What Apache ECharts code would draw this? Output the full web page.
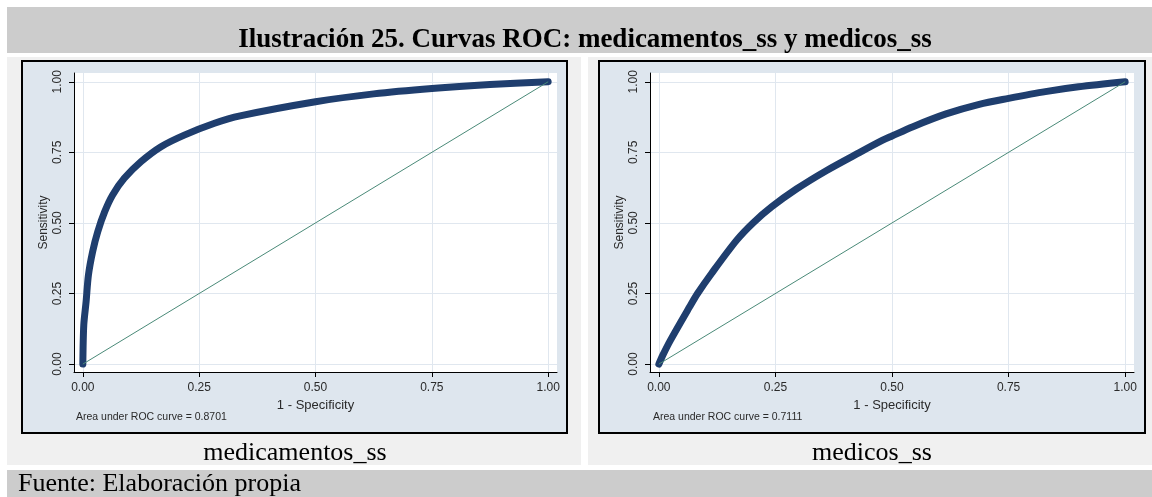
<!DOCTYPE html>
<html>
<head>
<meta charset="utf-8">
<script src="https://cdn.jsdelivr.net/npm/echarts@6/dist/echarts.min.js"></script>
<style>
  html, body { margin: 0; padding: 0; background: #ffffff; }
  #chart { width: 1152px; height: 497px; }
</style>
</head>
<body>
<div id="chart"></div>
<script>
// Figure texts
const figureTitle = 'Ilustración 25. Curvas ROC: medicamentos_ss y medicos_ss';
const sourceNote = 'Fuente: Elaboración propia';
const panelCaptions = ['medicamentos_ss', 'medicos_ss'];
const aucValues = ['0.8701', '0.7111'];

// Axis ticks shared by both panels
const tickValues = [0, 0.25, 0.5, 0.75, 1];

// ROC curve: medicamentos_ss (1 - specificity, sensitivity)
const medicamentosFpr = [0, 0.002, 0.007, 0.012, 0.021, 0.032, 0.047, 0.064, 0.089, 0.125, 0.168, 0.218, 0.283, 0.338, 0.5, 0.625, 0.75, 0.875, 1];
const medicamentosTpr = [0, 0.138, 0.221, 0.315, 0.398, 0.469, 0.540, 0.599, 0.658, 0.717, 0.770, 0.811, 0.853, 0.879, 0.929, 0.957, 0.976, 0.990, 1];

// ROC curve: medicos_ss
const medicosFpr = [0, 0.008, 0.025, 0.066, 0.083, 0.113, 0.167, 0.202, 0.242, 0.295, 0.359, 0.431, 0.48, 0.5, 0.545, 0.616, 0.687, 0.75, 0.829, 0.9, 1];
const medicosTpr = [0, 0.030, 0.085, 0.203, 0.250, 0.321, 0.439, 0.500, 0.557, 0.620, 0.685, 0.750, 0.793, 0.808, 0.841, 0.886, 0.920, 0.941, 0.965, 0.982, 1];

// Chance diagonal
const diagonal = [[0, 0], [1, 1]];

const pairs = (xs, ys) => xs.map((x, i) => [x, ys[i]]);

const curveColor = '#1f3e6e';
const diagColor = '#4a8a78';
const gridColor = '#e0e7ef';
const labelColor = '#2a2a2a';
const sansFont = '"Liberation Sans", Arial, sans-serif';
const serifFont = '"Liberation Serif", "Times New Roman", serif';

function xAxisFor(gridIndex) {
  return {
    type: 'value', gridIndex,
    min: -0.019, max: 1.019,
    name: '1 - Specificity', nameLocation: 'middle', nameGap: 20,
    nameTextStyle: { fontFamily: sansFont, fontSize: 13, color: labelColor },
    axisLine: { show: true, onZero: false, lineStyle: { color: '#000', width: 1 } },
    axisTick: { show: true, customValues: tickValues, length: 5, lineStyle: { color: '#000' } },
    axisLabel: { customValues: tickValues, formatter: v => v.toFixed(2), fontFamily: sansFont, fontSize: 12, color: labelColor, margin: 10 },
    splitLine: { show: true, lineStyle: { color: gridColor, width: 1 } }
  };
}

function yAxisFor(gridIndex) {
  return {
    type: 'value', gridIndex,
    min: -0.028, max: 1.031,
    name: 'Sensitivity', nameLocation: 'middle', nameGap: 24, nameRotate: 90,
    nameTextStyle: { fontFamily: sansFont, fontSize: 12, color: labelColor },
    axisLine: { show: true, onZero: false, lineStyle: { color: '#000', width: 1 } },
    axisTick: { show: true, customValues: tickValues, length: 5, lineStyle: { color: '#000' } },
    axisLabel: { customValues: tickValues, rotate: 90, formatter: v => v.toFixed(2), fontFamily: sansFont, fontSize: 12, color: labelColor, margin: 10 },
    splitLine: { show: true, lineStyle: { color: gridColor, width: 1 } }
  };
}

function curveSeries(gridIndex, data) {
  return {
    type: 'line', xAxisIndex: gridIndex, yAxisIndex: gridIndex,
    data, showSymbol: false, smooth: 0.3, z: 3,
    lineStyle: { color: curveColor, width: 7, cap: 'round', join: 'round' }
  };
}

function diagonalSeries(gridIndex) {
  return {
    type: 'line', xAxisIndex: gridIndex, yAxisIndex: gridIndex,
    data: diagonal, showSymbol: false, z: 4,
    lineStyle: { color: diagColor, width: 1 }
  };
}

const backgrounds = [
  { type: 'rect', z: -20, shape: { x: 7, y: 7, width: 1145, height: 46 }, style: { fill: '#cccccc' } },
  { type: 'rect', z: -20, shape: { x: 7, y: 57, width: 574, height: 408 }, style: { fill: '#f0f0f0' } },
  { type: 'rect', z: -20, shape: { x: 588, y: 57, width: 564, height: 408 }, style: { fill: '#f0f0f0' } },
  { type: 'rect', z: -20, shape: { x: 7, y: 470, width: 1145, height: 27 }, style: { fill: '#cccccc' } },
  { type: 'rect', z: -10, shape: { x: 22, y: 61, width: 545, height: 372 }, style: { fill: '#dee6ee', stroke: '#000', lineWidth: 2 } },
  { type: 'rect', z: -10, shape: { x: 599, y: 61, width: 546, height: 372 }, style: { fill: '#dee6ee', stroke: '#000', lineWidth: 2 } }
];

const texts = [
  { type: 'text', z: 20, x: 585, y: 40, style: { text: figureTitle, font: 'bold 27px ' + serifFont, fill: '#000', align: 'center', verticalAlign: 'middle' } },
  { type: 'text', z: 20, x: 295, y: 453, style: { text: panelCaptions[0], font: '26px ' + serifFont, fill: '#000', align: 'center', verticalAlign: 'middle' } },
  { type: 'text', z: 20, x: 872, y: 453, style: { text: panelCaptions[1], font: '26px ' + serifFont, fill: '#000', align: 'center', verticalAlign: 'middle' } },
  { type: 'text', z: 20, x: 18, y: 484, style: { text: sourceNote, font: '26px ' + serifFont, fill: '#000', align: 'left', verticalAlign: 'middle' } },
  { type: 'text', z: 20, x: 76, y: 417, style: { text: 'Area under ROC curve = ' + aucValues[0], font: '10.5px ' + sansFont, fill: labelColor, align: 'left', verticalAlign: 'middle' } },
  { type: 'text', z: 20, x: 653, y: 417, style: { text: 'Area under ROC curve = ' + aucValues[1], font: '10.5px ' + sansFont, fill: labelColor, align: 'left', verticalAlign: 'middle' } }
];

const chart = echarts.init(document.getElementById('chart'), null, { renderer: 'canvas' });
chart.setOption({
  animation: false,
  backgroundColor: '#ffffff',
  graphic: { elements: backgrounds.concat(texts) },
  grid: [
    { left: 74, top: 73, width: 483, height: 299, show: true, backgroundColor: '#ffffff', borderWidth: 0, containLabel: false },
    { left: 650, top: 73, width: 484, height: 299, show: true, backgroundColor: '#ffffff', borderWidth: 0, containLabel: false }
  ],
  xAxis: [xAxisFor(0), xAxisFor(1)],
  yAxis: [yAxisFor(0), yAxisFor(1)],
  series: [
    curveSeries(0, pairs(medicamentosFpr, medicamentosTpr)),
    diagonalSeries(0),
    curveSeries(1, pairs(medicosFpr, medicosTpr)),
    diagonalSeries(1)
  ]
});
</script>
</body>
</html>
